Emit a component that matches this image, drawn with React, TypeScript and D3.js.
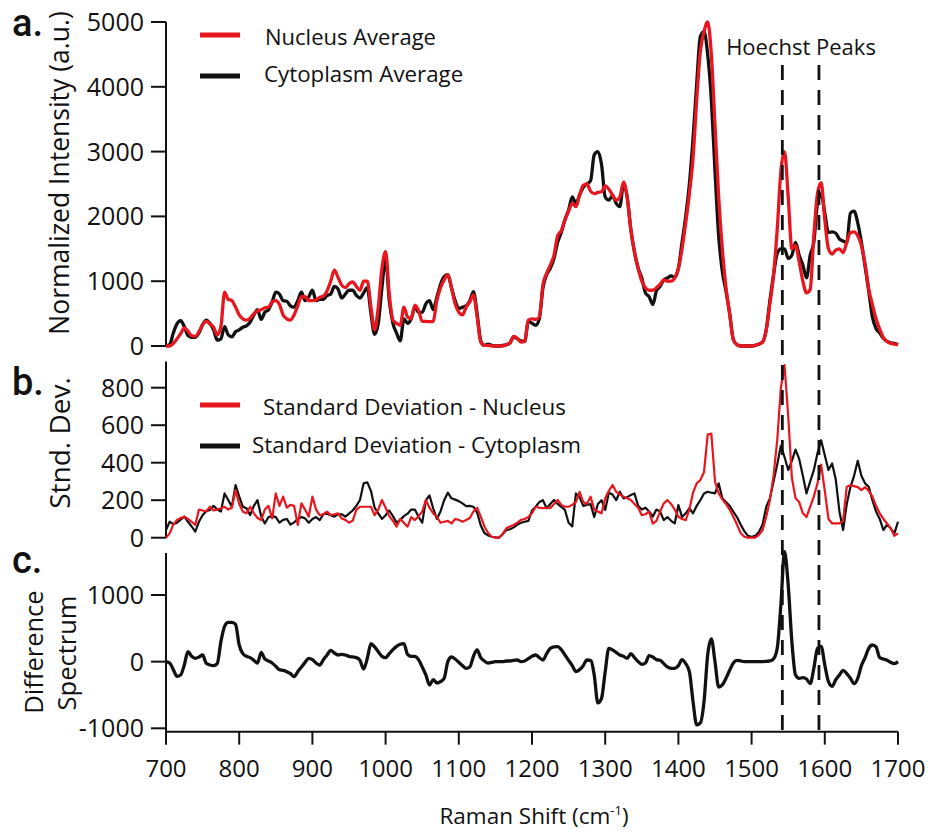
import React from "react";
import * as d3 from "d3";

// Raman shift grid: 700..1700 cm-1, every 5 cm-1
const START = 700;
const STEP = 5;

const nucleusAvg = [
  0, 0, 40, 110, 190, 280, 230, 160, 150, 220,
  330, 380, 340, 290, 170, 300, 830, 720, 700, 600,
  480, 420, 400, 430, 500, 540, 560, 590, 600, 680,
  700, 640, 480, 420, 400, 480, 620, 760, 760, 700,
  700, 710, 750, 770, 850, 1000, 1170, 1060, 940, 900,
  960, 990, 920, 860, 1000, 1000, 600, 250, 600, 1200,
  1455, 800, 400, 350, 320, 600, 450, 420, 630, 550,
  380, 380, 375, 380, 700, 900, 1020, 1100, 900, 650,
  520, 480, 600, 680, 790, 450, 60, 10, 10, 0,
  0, 0, 0, 20, 50, 150, 120, 60, 70, 400,
  420, 410, 450, 950, 1120, 1250, 1400, 1700, 1780, 1950,
  2080, 2200, 2150, 2330, 2480, 2500, 2390, 2350, 2370, 2380,
  2470, 2420, 2330, 2250, 2300, 2530, 2300, 1800, 1450, 1200,
  1000, 900, 860, 860, 900, 950, 1020, 1000, 1000, 1050,
  1200, 1500, 1900, 2350, 2900, 3800, 4550, 4850, 5000, 4500,
  3400, 2300, 1500, 900, 500, 100, 20, 0, 0, 0,
  0, 10, 30, 60, 250, 650, 1100, 1800, 2700, 3000,
  2300, 1500, 1550, 1300, 1000, 820, 870, 1700, 2350, 2520,
  1950, 1500, 1420, 1480, 1500, 1440, 1600, 1750, 1760, 1700,
  1550, 1270, 880, 640, 420, 260, 130, 70, 40, 30,
  15,
];

const cytoplasmAvg = [
  0, 20, 200, 340, 390, 300, 160, 135, 135, 200,
  330, 400, 350, 250, 90, 110, 300, 170, 140, 220,
  250, 290, 310, 370, 480, 560, 410, 520, 560, 680,
  830, 800, 700, 690, 620, 600, 700, 830, 700, 760,
  860, 700, 720, 720, 780, 800, 920, 880, 740, 800,
  860, 860, 780, 740, 820, 900, 500, 180, 350, 900,
  1350, 700, 350, 200, 80, 420, 350, 420, 600, 520,
  520, 650, 700, 560, 750, 950, 1070, 1100, 900, 700,
  580, 600, 620, 700, 840, 500, 80, 10, 30, 10,
  0, 0, 10, 20, 50, 140, 110, 80, 70, 380,
  350, 320, 420, 900, 1100, 1200, 1350, 1600, 1750, 1950,
  2100, 2300, 2200, 2330, 2450, 2500, 2550, 2950, 3000, 2800,
  2300, 2250, 2320, 2200, 2150, 2500, 2300, 1800, 1450, 1200,
  1050, 820, 760, 640, 850, 920, 1020, 1050, 1080, 1060,
  1200, 1600, 2000, 2500, 3200, 4050, 4780, 4850, 4500, 3800,
  2700, 1700, 1150, 850, 500, 100, 20, 0, 0, 0,
  0, 10, 30, 60, 250, 700, 1100, 1430, 1500, 1500,
  1350, 1400, 1600, 1400, 1250, 1050, 1400, 1600, 2200, 2350,
  2050, 1750, 1760, 1740, 1650, 1620, 1600, 2050, 2080, 1900,
  1600, 1230, 850, 450, 270, 200, 120, 70, 50, 40,
  20,
];

const sdNucleus = [
  0, 23, 70, 95, 105, 112, 100, 85, 68, 150,
  145, 140, 165, 145, 150, 157, 165, 150, 160, 254,
  180, 139, 130, 165, 130, 105, 94, 150, 170, 103,
  236, 170, 219, 160, 175, 170, 68, 183, 150, 112,
  219, 150, 120, 125, 139, 121, 125, 130, 103, 95,
  80, 90, 148, 165, 165, 165, 165, 120, 150, 201,
  160, 115, 90, 59, 100, 80, 59, 110, 94, 115,
  139, 201, 160, 130, 112, 80, 85, 90, 76, 100,
  95, 85, 94, 105, 140, 160, 112, 60, 25, 5,
  0, 0, 20, 50, 60, 68, 80, 95, 100, 110,
  130, 165, 160, 157, 160, 157, 180, 201, 175, 165,
  165, 175, 190, 245, 190, 180, 219, 150, 140, 130,
  210, 250, 281, 245, 230, 219, 210, 201, 180, 160,
  120, 125, 139, 75, 90, 140, 183, 200, 180, 150,
  112, 100, 94, 150, 240, 290, 308, 350, 550, 555,
  300, 236, 205, 180, 150, 112, 70, 25, 5, 0,
  0, 0, 15, 40, 112, 200, 330, 520, 800, 920,
  650, 320, 210, 190, 130, 110, 165, 219, 290, 390,
  250, 100, 76, 76, 76, 90, 272, 280, 275, 270,
  254, 270, 250, 219, 170, 130, 100, 76, 50, 10,
  23,
];

const sdCytoplasm = [
  41, 85, 72, 80, 96, 112, 85, 60, 32, 85,
  120, 142, 148, 170, 150, 140, 236, 201, 165, 280,
  220, 165, 157, 120, 170, 200, 115, 76, 110, 115,
  110, 80, 95, 100, 70, 82, 100, 110, 103, 80,
  100, 110, 94, 125, 128, 120, 112, 125, 125, 112,
  128, 145, 170, 201, 290, 295, 250, 160, 130, 100,
  120, 145, 115, 80, 95, 115, 128, 150, 150, 112,
  80, 200, 225, 157, 100, 140, 200, 240, 210, 203,
  195, 183, 168, 170, 165, 135, 65, 25, 12, 5,
  2, 0, 20, 41, 45, 55, 70, 80, 85, 90,
  145, 165, 190, 200, 157, 180, 201, 180, 165, 148,
  80, 60, 236, 215, 170, 175, 180, 110, 180, 200,
  148, 240, 230, 200, 245, 210, 215, 228, 236, 170,
  150, 160, 140, 112, 150, 140, 94, 110, 90, 76,
  174, 110, 130, 157, 130, 170, 200, 236, 245, 240,
  236, 290, 210, 190, 170, 139, 110, 70, 35, 10,
  5, 10, 30, 70, 165, 210, 300, 390, 490, 430,
  361, 410, 470, 420, 330, 236, 300, 360, 450, 520,
  440, 361, 396, 310, 140, 41, 180, 270, 330, 410,
  330, 290, 272, 200, 140, 100, 41, 70, 50, 23,
  85,
];

const differenceSpectrum = [
  0, -20, -120, -220, -200, -50, 150, 80, 50, 70,
  100, -25, -50, -60, -30, 300, 530, 590, 590, 560,
  250, 120, 80, 60, 20, -20, 140, 40, 10, -20,
  -70, -120, -130, -150, -180, -225, -150, -80, -10, 50,
  30, -20, -50, 30, 100, 170, 130, 100, 110, 100,
  80, 70, 60, 20, -110, 50, 270, 220, 150, 80,
  60, 120, 180, 230, 260, 270, 110, 80, 80, 30,
  -80, -200, -350, -270, -320, -300, -250, 0, 70, 40,
  -10, -60, -100, -80, 80, 175, 60, 10, -20, -10,
  0, 0, 0, 10, 10, 20, 25, 0, 10, 45,
  80, 100, 60, 25, 120, 200, 220, 225, 180, 100,
  20, -60, -150, -120, -60, 25, 20, -200, -620, -550,
  -150, 200, 175, 140, 100, 80, 50, 120, 60, 0,
  -40, -20, 90, 70, 30, 20, -30, -80, -100, -100,
  -60, 30, -30, -150, -600, -950, -920, -600, 100, 340,
  0, -380, -350, -250, -130, -20, 20, 10, 0, 0,
  0, 0, 0, 0, 5, 10, 40, 200, 850, 1650,
  1150, 300, -200, -250, -240, -260, -330, -100, 200, 230,
  -50, -300, -370, -270, -200, -130, -180, -250, -330, -250,
  -60, 60, 200, 250, 220, 60, 40, 20, -10, -30,
  0,
];

const xTicks = [700, 800, 900, 1000, 1100, 1200, 1300, 1400, 1500, 1600, 1700];
const aTicks = [0, 1000, 2000, 3000, 4000, 5000];
const bTicks = [0, 200, 400, 600, 800];
const cTicks = [-1000, 0, 1000];
const hoechstPeaks = [1542, 1592];

const RED = "#e8161e";
const BLACK = "#111111";
const FONT = "'Open Sans', 'Noto Sans', sans-serif";

const pts = (vals: number[]) => vals.map((v, i) => [START + i * STEP, v] as [number, number]);

export default function App() {
  const x = d3.scaleLinear().domain([700, 1700]).range([166, 898]);
  const yA = d3.scaleLinear().domain([0, 5000]).range([346, 22]);
  const yB = d3.scaleLinear().domain([0, 800]).range([537.7, 387.7]);
  const yC = d3.scaleLinear().domain([-1000, 1000]).range([728.3, 595]);

  const lineA = d3.line<[number, number]>().x(d => x(d[0])).y(d => yA(d[1])).curve(d3.curveMonotoneX);
  const lineB = d3.line<[number, number]>().x(d => x(d[0])).y(d => yB(d[1]));
  const lineC = d3.line<[number, number]>().x(d => x(d[0])).y(d => yC(d[1])).curve(d3.curveMonotoneX);

  const axisX = x(700);
  const tickLen = 15;

  const yAxis = (scale: d3.ScaleLinear<number, number>, ticks: number[], top: number, bottom: number) => (
    <g>
      <line x1={axisX} x2={axisX} y1={scale(top)} y2={scale(bottom)} stroke={BLACK} strokeWidth={2} />
      {ticks.map(t => (
        <g key={t}>
          <line x1={axisX - tickLen} x2={axisX} y1={scale(t)} y2={scale(t)} stroke={BLACK} strokeWidth={2} />
          <text x={axisX - 22} y={scale(t)} dy="0.36em" textAnchor="end" fontSize={25} fill={BLACK}>
            {t}
          </text>
        </g>
      ))}
    </g>
  );

  const xAxisY = yC(-1050);

  return (
    <svg
      width={936}
      height={832}
      style={{ position: "absolute", left: 0, top: 0, background: "#fff" }}
      fontFamily={FONT}
    >
      <rect width={936} height={832} fill="#fff" />

      {/* panel labels */}
      <text x={12} y={36} fontSize={38} fontFamily="Roboto, sans-serif" fontWeight={500} fill={BLACK}>a.</text>
      <text x={12} y={395} fontSize={38} fontFamily="Roboto, sans-serif" fontWeight={500} fill={BLACK}>b.</text>
      <text x={12} y={573} fontSize={38} fontFamily="Roboto, sans-serif" fontWeight={500} fill={BLACK}>c.</text>

      {/* axis titles */}
      <text transform="translate(69,173) rotate(-90)" textAnchor="middle" fontSize={26.5} fill={BLACK}>
        Normalized Intensity (a.u.)
      </text>
      <text transform="translate(70,443) rotate(-90)" textAnchor="middle" fontSize={28} fill={BLACK}>
        Stnd. Dev.
      </text>
      <text transform="translate(43,652) rotate(-90)" textAnchor="middle" fontSize={25.5} fill={BLACK}>
        Difference
      </text>
      <text transform="translate(76,653) rotate(-90)" textAnchor="middle" fontSize={25.5} fill={BLACK}>
        Spectrum
      </text>

      {/* y axes */}
      {yAxis(yA, aTicks, 5000, 0)}
      {yAxis(yB, bTicks, 940, 0)}
      {yAxis(yC, cTicks, 1630, -1050)}

      {/* x axis */}
      <line x1={x(700)} x2={x(1700)} y1={xAxisY} y2={xAxisY} stroke={BLACK} strokeWidth={2} />
      {xTicks.map(t => (
        <g key={t}>
          <line x1={x(t)} x2={x(t)} y1={xAxisY} y2={xAxisY + 13} stroke={BLACK} strokeWidth={2} />
          <text x={x(t)} y={777} textAnchor="middle" fontSize={24} fill={BLACK}>{t}</text>
        </g>
      ))}
      <text x={534} y={824} textAnchor="middle" fontSize={22.5} fill={BLACK}>
        Raman Shift (cm<tspan dy={-9} fontSize={13}>-1</tspan><tspan dy={9}>)</tspan>
      </text>

      {/* panel a */}
      <path d={lineA(pts(cytoplasmAvg)) || ""} fill="none" stroke={BLACK} strokeWidth={3.3} strokeLinejoin="round" />
      <path d={lineA(pts(nucleusAvg)) || ""} fill="none" stroke={RED} strokeWidth={3.3} strokeLinejoin="round" />

      {/* panel b */}
      <path d={lineB(pts(sdCytoplasm)) || ""} fill="none" stroke={BLACK} strokeWidth={2.2} strokeLinejoin="round" />
      <path d={lineB(pts(sdNucleus)) || ""} fill="none" stroke={RED} strokeWidth={2.2} strokeLinejoin="round" />

      {/* panel c */}
      <path d={lineC(pts(differenceSpectrum)) || ""} fill="none" stroke={BLACK} strokeWidth={3.3} strokeLinejoin="round" />

      {/* Hoechst dashed lines */}
      {hoechstPeaks.map(p => (
        <line key={p} x1={x(p)} x2={x(p)} y1={65} y2={xAxisY} stroke={BLACK} strokeWidth={2.8} strokeDasharray="15 10" />
      ))}
      <text x={801} y={55} textAnchor="middle" fontSize={22} fill={BLACK}>Hoechst Peaks</text>

      {/* legend a */}
      <line x1={200} x2={240} y1={35} y2={35} stroke={RED} strokeWidth={5} />
      <text x={265} y={45} fontSize={22} fill={BLACK}>Nucleus Average</text>
      <line x1={200} x2={240} y1={76} y2={76} stroke={BLACK} strokeWidth={5} />
      <text x={264} y={82} fontSize={22.3} fill={BLACK}>Cytoplasm Average</text>

      {/* legend b */}
      <line x1={200} x2={240} y1={405} y2={405} stroke={RED} strokeWidth={5} />
      <text x={263} y={415} fontSize={22.4} fill={BLACK}>Standard Deviation - Nucleus</text>
      <line x1={200} x2={240} y1={446} y2={446} stroke={BLACK} strokeWidth={5} />
      <text x={252} y={453} fontSize={22.4} fill={BLACK}>Standard Deviation - Cytoplasm</text>
    </svg>
  );
}
